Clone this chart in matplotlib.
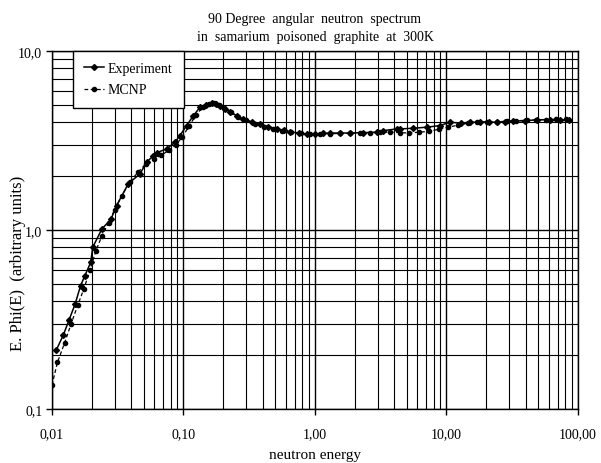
import matplotlib.pyplot as plt
from matplotlib.ticker import FixedLocator, FixedFormatter, LogLocator, NullFormatter

plt.rcParams['font.family'] = ['Liberation Serif', 'DejaVu Serif']

# Experiment series
exp_energy = [0.0108, 0.0122, 0.0135, 0.0150, 0.0165, 0.0178, 0.0197, 0.0204, 0.0239, 0.0281,
              0.031, 0.038, 0.0467, 0.0525, 0.0589, 0.0625, 0.0745, 0.0861, 0.094, 0.1057,
              0.1188, 0.1334, 0.148, 0.164, 0.178, 0.1895, 0.207, 0.226, 0.255, 0.285,
              0.33, 0.382, 0.44, 0.511, 0.58, 0.645, 0.75, 0.865, 1.0, 1.15,
              1.30, 1.55, 1.85, 2.3, 2.94, 3.31, 4.18, 4.43, 5.59, 7.06,
              8.93, 10.6, 13, 15, 18, 21, 24.1, 28, 32.2, 39.5,
              48.5, 61.2, 73, 85]
exp_flux = [0.214, 0.259, 0.315, 0.386, 0.489, 0.556, 0.66, 0.80, 1.01, 1.15,
            1.37, 1.81, 2.06, 2.39, 2.60, 2.70, 2.84, 3.09, 3.37, 3.83,
            4.35, 4.84, 5.0, 5.12, 5.08, 4.95, 4.75, 4.54, 4.35, 4.17,
            4.02, 3.91, 3.78, 3.67, 3.60, 3.54, 3.48, 3.44, 3.44, 3.46,
            3.48, 3.48, 3.48, 3.50, 3.51, 3.59, 3.67, 3.67, 3.70, 3.75,
            3.83, 4.0, 3.95, 4.0, 4.0, 4.0, 4.0, 4.03, 4.07, 4.07,
            4.13, 4.13, 4.13, 4.10]

# MCNP series
mcnp_energy = [0.01, 0.011, 0.0125, 0.014, 0.0157, 0.0175, 0.0195, 0.0215, 0.024, 0.027,
               0.030, 0.034, 0.039, 0.045, 0.052, 0.060, 0.068, 0.077, 0.087, 0.098,
               0.11, 0.125, 0.14, 0.155, 0.17, 0.185, 0.205, 0.23, 0.26, 0.30,
               0.35, 0.41, 0.48, 0.56, 0.66, 0.78, 0.92, 1.1, 1.3, 1.55,
               1.85, 2.2, 2.6, 3.1, 3.7, 4.4, 5.2, 6.2, 7.3, 8.7,
               10.3, 12.2, 14.5, 17.2, 20.5, 24.3, 29, 34, 41, 48,
               57, 68, 81]
mcnp_flux = [0.136, 0.182, 0.235, 0.300, 0.38, 0.47, 0.60, 0.76, 0.93, 1.10,
             1.30, 1.55, 1.85, 2.10, 2.35, 2.50, 2.62, 2.78, 2.98, 3.30,
             3.80, 4.40, 4.85, 5.08, 5.10, 5.00, 4.80, 4.55, 4.30, 4.10,
             3.92, 3.78, 3.66, 3.58, 3.52, 3.47, 3.44, 3.44, 3.45, 3.46,
             3.47, 3.48, 3.50, 3.52, 3.52, 3.50, 3.48, 3.52, 3.55, 3.65,
             3.75, 3.85, 3.95, 4.00, 4.02, 4.03, 4.05, 4.08, 4.10, 4.12,
             4.13, 4.15, 4.15]

x_ticks = [0.01, 0.1, 1, 10, 100]
x_labels = ['0,01', '0,10', '1,00', '10,00', '100,00']
y_ticks = [0.1, 1, 10]
y_labels = ['0,1', '1,0', '10,0']

fig = plt.figure(figsize=(6.01, 4.64), dpi=100)
ax = fig.add_axes([0.0865, 0.1164, 0.8752, 0.7716])

ax.plot(exp_energy, exp_flux, color='black', linewidth=1.1, marker='D',
        markersize=3, label='Experiment')
ax.plot(mcnp_energy, mcnp_flux, color='black', linewidth=0.9, linestyle='--',
        dashes=(3, 2), marker='o', markersize=3, label='MCNP')

ax.set_xscale('log'); ax.set_yscale('log')
ax.set_xlim(0.01, 100); ax.set_ylim(0.1, 10)

ax.xaxis.set_major_locator(FixedLocator(x_ticks))
ax.xaxis.set_major_formatter(FixedFormatter(x_labels))
ax.yaxis.set_major_locator(FixedLocator(y_ticks))
ax.yaxis.set_major_formatter(FixedFormatter(y_labels))
for axis in (ax.xaxis, ax.yaxis):
    axis.set_minor_locator(LogLocator(base=10, subs=range(2, 10)))
    axis.set_minor_formatter(NullFormatter())

ax.grid(True, which='major', color='black', linewidth=1.0)
ax.grid(True, which='minor', color='black', linewidth=0.8)
ax.tick_params(which='major', direction='out', length=4, width=1, labelsize=10)
ax.tick_params(axis='x', which='major', pad=9)
ax.tick_params(axis='y', which='major', pad=3)
ax.tick_params(which='minor', length=0)
for s in ax.spines.values():
    s.set_linewidth(1.0)

ax.set_title("90 Degree  angular  neutron  spectrum\nin  samarium  poisoned  graphite  at  300K",
             fontsize=10, pad=8, linespacing=1.5)
ax.set_xlabel('neutron energy', fontsize=11, labelpad=6)
ax.set_ylabel('E. Phi(E)  (arbitrary units)', fontsize=12)
# label sits lower than centre, close to the tick labels, as in the original
ax.yaxis.set_label_coords(-0.049, 0.41)

leg = ax.legend(loc='upper left', bbox_to_anchor=(0.04, 1.0), borderaxespad=0,
                fontsize=10, frameon=True, fancybox=False, framealpha=1,
                edgecolor='black', handlelength=1.4, handletextpad=0.3,
                labelspacing=0.6, borderpad=0.8)
leg.get_frame().set_linewidth(1.0)

fig.savefig('out.png', dpi=100)
